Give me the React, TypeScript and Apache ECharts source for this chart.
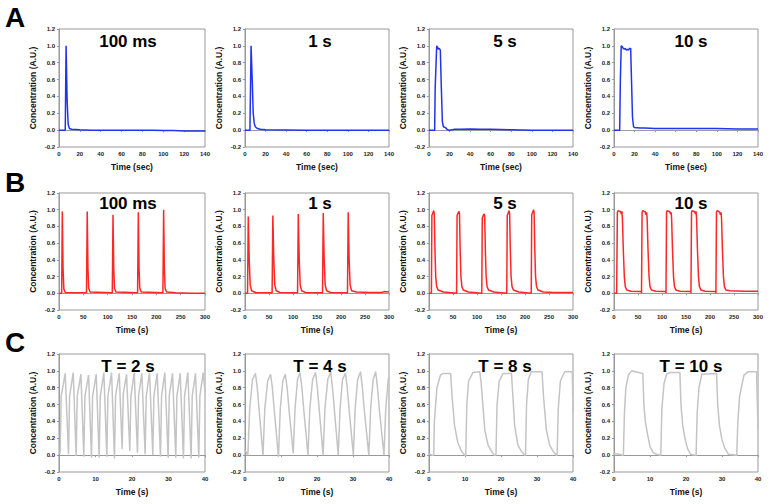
import React, { useEffect, useRef } from "react";
import * as echarts from "echarts";

// ---------- Data ----------
const rowXMax = [140, 300, 40];
const rowXInterval = [20, 50, 10];
const rowXNames = ["Time (sec)", "Time (s)", "Time (s)"];
const rowColors = ["#2233ee", "#ff2626", "#c4c4c4"];
const rowLetters = ["A", "B", "C"];
const panelTitles = [
  ["100 ms", "1 s", "5 s", "10 s"],
  ["100 ms", "1 s", "5 s", "10 s"],
  ["T = 2 s", "T = 4 s", "T = 8 s", "T = 10 s"],
];
const yTicks = [-0.2, 0, 0.2, 0.4, 0.6, 0.8, 1.0, 1.2];

const A_100ms = [[0,0],[2,0],[5,0],[6,0.0],[6.8,1.0],[7.8,0.35],[8.8,0.07],[10,0.02],[12,0.01],[20,0.005],[30,0.0],[40,0.0],[50,0.0],[60,-0.002],[70,0.0],[80,0.0],[90,0.0],[100,-0.005],[110,-0.005],[120,-0.01],[130,-0.01],[140,-0.01]];
const A_1s = [[0,0],[4.8,0],[5.9,1.0],[7,0.6],[8,0.2],[9,0.08],[10,0.04],[12,0.02],[15,0.01],[20,0.005],[40,0.003],[60,0.0],[80,0.0],[100,0.0],[120,0.0],[140,0.0]];
const A_5s = [[0,0],[5.5,0],[6,0.5],[7.5,1.0],[8.5,0.98],[9,0.96],[10,0.97],[11,0.95],[12,0.5],[13,0.1],[14,0.04],[16,0.03],[18,0.005],[20,0.0],[25,0.01],[30,0.01],[40,0.015],[50,0.01],[60,0.01],[80,0.005],[100,0.0],[120,0.0],[140,0.0]];
const A_10s = [[0,0],[5.5,0],[6.2,0.6],[7,1.0],[8,0.99],[9,0.97],[10,0.96],[11,0.97],[12,0.95],[13,0.96],[14,0.95],[15,0.97],[16.2,0.97],[17,0.6],[18,0.15],[19,0.04],[20,0.03],[25,0.025],[30,0.025],[40,0.02],[60,0.02],[80,0.02],[100,0.02],[120,0.015],[140,0.015]];

const B_100ms = [[0,0],[5.5,0],[6.8,0.98],[8.3,0.3],[10,0.05],[13,0.01],[56.5,0.005],[58,0.98],[59.5,0.3],[61,0.06],[64,0.015],[109.5,0.005],[111,0.94],[112.5,0.3],[114,0.06],[117,0.015],[161.5,0.005],[163,0.97],[164.5,0.3],[166,0.06],[169,0.015],[213.5,0.005],[215,1.0],[216.5,0.3],[218,0.06],[221,0.015],[240,0.005],[270,0.0],[300,0.0]];
const B_1s = [[0,0],[5.3,0],[6.8,0.92],[8.8,0.4],[10.8,0.1],[13.8,0.03],[22,0.01],[56.5,0.005],[58,0.93],[60,0.4],[62,0.1],[65,0.03],[73,0.01],[109.5,0.005],[111,0.95],[113,0.4],[115,0.1],[118,0.03],[126,0.01],[161.5,0.005],[163,0.96],[165,0.4],[167,0.1],[170,0.03],[178,0.01],[213.5,0.005],[215,0.97],[217,0.4],[219,0.1],[222,0.03],[232,0.015],[260,0.01],[285,0.01],[290,0.02],[300,0.015]];
const B_5s = [[0,0],[5,0],[6,0.93],[8,0.96],[10,0.99],[11,0.95],[12.5,0.5],[14,0.2],[16,0.08],[19,0.04],[30,0.015],[57.5,0.0],[58.5,0.93],[60.5,0.96],[62.5,0.98],[63.5,0.95],[65,0.5],[66.5,0.2],[68.5,0.08],[71.5,0.04],[82,0.015],[110,0.0],[111,0.9],[113,0.93],[115,0.95],[116,0.92],[117.5,0.5],[119,0.2],[121,0.08],[124,0.04],[135,0.015],[162,0.0],[163,0.93],[165,0.96],[167,0.99],[168,0.95],[169.5,0.5],[171,0.2],[173,0.08],[176,0.04],[187,0.015],[213,0.0],[214,0.94],[216,0.97],[218,1.0],[219,0.96],[220.5,0.5],[222,0.2],[224,0.08],[227,0.04],[238,0.015],[260,0.01],[300,0.01]];
const B_10s = [[0,0],[5.5,0],[7,0.97],[8.5,0.99],[11.5,0.98],[13.5,0.98],[14.5,0.96],[15.5,0.95],[16.5,0.98],[17.5,0.9],[19.5,0.5],[21.5,0.2],[23.5,0.08],[26.5,0.04],[35.5,0.025],[57,0.02],[57.3,0.0],[58.5,0.97],[60,0.99],[63,0.98],[65,0.98],[66,0.95],[67,0.94],[68,0.97],[69,0.9],[71,0.5],[73,0.2],[75,0.08],[78,0.04],[87,0.025],[108,0.02],[108.3,0.0],[109.5,0.97],[111,0.99],[114,0.98],[116,0.98],[117,0.96],[118,0.95],[119,0.97],[120,0.9],[122,0.5],[124,0.2],[126,0.08],[129,0.04],[138,0.025],[160,0.02],[160.3,0.0],[161.5,0.97],[163,0.99],[166,0.98],[168,0.98],[169,0.96],[170,0.95],[171,0.98],[172,0.9],[174,0.5],[176,0.2],[178,0.08],[181,0.04],[190,0.025],[212,0.02],[212.3,0.0],[213.5,0.97],[215,0.99],[218,0.98],[220,0.97],[221,0.95],[222,0.94],[223,0.97],[224,0.9],[226,0.5],[228,0.2],[230,0.08],[233,0.04],[242,0.03],[270,0.025],[300,0.025]];

const C_T2 = [[0,0.03],[0.3,0.02],[0.6,0.7],[1.7,0.97],[2.6,0.01],[2.9,0.7],[3.9,0.98],[4.7,-0.01],[5.0,0.7],[6.0,0.96],[6.8,-0.02],[7.1,0.7],[8.1,0.95],[8.9,-0.03],[9.2,0.7],[10.2,0.96],[11.0,-0.03],[11.3,0.7],[12.3,0.98],[13.1,-0.02],[13.4,0.7],[14.4,0.98],[15.2,-0.04],[15.5,0.7],[16.5,0.97],[17.3,0.07],[17.6,0.72],[18.5,0.96],[19.4,0.05],[19.7,0.7],[20.6,0.98],[21.5,0.03],[21.8,0.7],[22.7,0.97],[23.6,0.01],[23.9,0.7],[24.8,0.98],[25.7,0.0],[26.0,0.7],[26.9,0.97],[27.8,-0.02],[28.1,0.7],[29.0,0.98],[29.9,-0.03],[30.2,0.7],[31.1,0.97],[32.0,-0.03],[32.3,0.7],[33.2,0.97],[34.1,-0.04],[34.4,0.7],[35.3,0.98],[36.2,-0.04],[36.5,0.7],[37.4,0.97],[38.3,-0.03],[38.6,0.7],[39.5,0.98],[40,0.75]];
const C_T4 = [[0,0.06],[0.8,0.0],[1.3,0.55],[2.1,0.9],[2.9,0.97],[3.4,0.8],[3.9,0.55],[5.0,0.0],[5.5,0.55],[6.3,0.88],[7.1,0.96],[7.6,0.8],[8.1,0.55],[9.3,-0.02],[9.8,0.55],[10.5,0.88],[11.2,0.96],[11.7,0.8],[12.2,0.55],[13.4,0.02],[13.9,0.55],[14.6,0.9],[15.3,0.98],[15.8,0.8],[16.3,0.55],[17.5,0.0],[18.0,0.55],[18.8,0.9],[19.6,0.98],[20.1,0.8],[20.6,0.55],[21.7,0.0],[22.2,0.55],[23.0,0.9],[23.8,0.99],[24.3,0.8],[24.8,0.55],[25.9,0.0],[26.4,0.55],[27.1,0.9],[27.9,0.97],[28.4,0.8],[28.9,0.55],[30.1,0.0],[30.6,0.55],[31.3,0.9],[32.1,0.99],[32.6,0.8],[33.1,0.55],[34.4,0.0],[34.9,0.55],[35.6,0.9],[36.3,0.99],[36.8,0.8],[37.3,0.55],[38.6,0.0],[39.1,0.55],[39.8,0.9],[40,0.93]];
const C_T8 = [[0,0.02],[0.8,0.0],[1.3,0.0],[1.5,0.4],[2.2,0.8],[3.2,0.95],[3.9,0.97],[6.0,0.97],[6.4,0.7],[7.1,0.35],[8.0,0.15],[9.0,0.05],[9.9,0.0],[10.2,0.0],[10.5,0.6],[11.0,0.88],[12.2,0.98],[14.1,0.99],[14.5,0.85],[15.5,0.3],[16.4,0.12],[17.3,0.05],[18.2,0.0],[18.6,0.0],[18.9,0.6],[19.5,0.88],[20.6,0.97],[22.9,0.97],[23.3,0.7],[23.8,0.35],[24.7,0.12],[25.6,0.05],[26.6,0.0],[26.8,0.0],[27.1,0.6],[27.6,0.9],[28.4,0.99],[31.4,0.99],[31.8,0.7],[32.6,0.3],[33.5,0.12],[34.4,0.05],[35.4,0.0],[35.6,0.0],[35.9,0.55],[36.5,0.88],[37.7,0.99],[39.8,0.99],[40,0.5]];
const C_T10 = [[0,0.02],[1.5,0.01],[2.3,0.0],[2.6,0.0],[2.9,0.5],[3.3,0.8],[4.0,0.95],[4.9,1.0],[6.0,0.99],[6.8,0.98],[8.0,0.97],[8.3,0.6],[8.7,0.4],[9.3,0.25],[10.0,0.1],[10.9,0.03],[11.8,0.01],[12.8,0.0],[13.0,0.0],[13.3,0.55],[13.9,0.85],[14.6,0.96],[15.6,0.98],[18.3,0.98],[18.6,0.6],[19.1,0.35],[19.7,0.2],[20.4,0.08],[21.3,0.01],[22.5,0.0],[22.8,0.0],[23.1,0.5],[23.6,0.8],[24.4,0.96],[28.5,0.97],[28.8,0.6],[29.3,0.35],[30.0,0.18],[30.8,0.08],[31.8,0.01],[34.1,0.0],[34.4,0.4],[34.9,0.7],[36.1,0.95],[37.3,0.99],[39.6,0.99],[40,0.3]];

const panelData = [
  [A_100ms, A_1s, A_5s, A_10s],
  [B_100ms, B_1s, B_5s, B_10s],
  [C_T2, C_T4, C_T8, C_T10],
];

// ---------- Layout ----------
const colLefts = [59, 245, 429, 614];
const colWidths = [146, 144, 144, 144];
const rowTops = [29, 193, 354];
const rowHeights = [118, 117, 118];
const titleCenters = [128, 320, 505, 691];
const titleYs = [41, 203, 366];
const letterYs = [17, 182, 342];

const FONT = '"Liberation Sans", Arial, sans-serif';

export default function App() {
  const ref = useRef<HTMLDivElement>(null);
  useEffect(() => {
    document.body.style.margin = "0";
    if (!ref.current) return;
    const chart = echarts.init(ref.current, null, { renderer: "svg" });
    const grids: any[] = [];
    const xAxes: any[] = [];
    const yAxes: any[] = [];
    const series: any[] = [];
    const graphics: any[] = [];
    for (let r = 0; r < 3; r++) {
      graphics.push({
        type: "text",
        x: 15,
        y: letterYs[r],
        style: { text: rowLetters[r], fill: "#000", font: `bold 28px ${FONT}`, align: "center", verticalAlign: "middle" },
      });
      for (let c = 0; c < 4; c++) {
        const i = r * 4 + c;
        grids.push({
          left: colLefts[c],
          top: rowTops[r],
          width: colWidths[c],
          height: rowHeights[r],
          show: true,
          borderColor: "#999",
          borderWidth: 1,
          backgroundColor: "#fff",
        });
        xAxes.push({
          type: "value",
          gridIndex: i,
          min: 0,
          max: rowXMax[r],
          interval: rowXInterval[r],
          name: rowXNames[r],
          nameLocation: "middle",
          nameGap: 15,
          nameTextStyle: { fontSize: 8.5, fontWeight: "bold", fontFamily: FONT, color: "#111" },
          axisLine: { show: true, lineStyle: { color: "#999", width: 1 } },
          axisTick: { show: true, inside: false, length: 2, lineStyle: { color: "#999" } },
          axisLabel: { fontSize: 6, margin: 4, color: "#222", fontFamily: FONT, fontWeight: "bold" },
          splitLine: { show: false },
        });
        yAxes.push({
          type: "value",
          gridIndex: i,
          min: -0.2,
          max: 1.2,
          interval: 0.2,
          name: "Concentration (A.U.)",
          nameLocation: "middle",
          nameGap: 22,
          nameTextStyle: { fontSize: 8.5, fontWeight: "bold", fontFamily: FONT, color: "#111" },
          axisLine: { show: true, lineStyle: { color: "#999", width: 1 } },
          axisTick: { show: true, inside: false, length: 2, lineStyle: { color: "#999" } },
          axisLabel: {
            fontSize: 6,
            margin: 4,
            color: "#222",
            fontFamily: FONT,
            fontWeight: "bold",
            formatter: (v: number) => (Math.abs(v) < 1e-9 ? "0.0" : v.toFixed(1)),
          },
          splitLine: { show: false },
        });
        series.push({
          type: "line",
          xAxisIndex: i,
          yAxisIndex: i,
          data: panelData[r][c],
          showSymbol: false,
          symbol: "none",
          lineStyle: { color: rowColors[r], width: 1.5 },
          clip: true,
        });
        graphics.push({
          type: "text",
          x: titleCenters[c],
          y: titleYs[r],
          z: 100,
          style: { text: panelTitles[r][c], fill: "#000", font: `bold 17px ${FONT}`, align: "center", verticalAlign: "middle" },
        });
      }
    }
    chart.setOption({
      animation: false,
      backgroundColor: "#fff",
      grid: grids,
      xAxis: xAxes,
      yAxis: yAxes,
      series,
      graphic: graphics,
    });
    return () => chart.dispose();
  }, []);
  return <div ref={ref} style={{ width: 771, height: 504 }} />;
}
